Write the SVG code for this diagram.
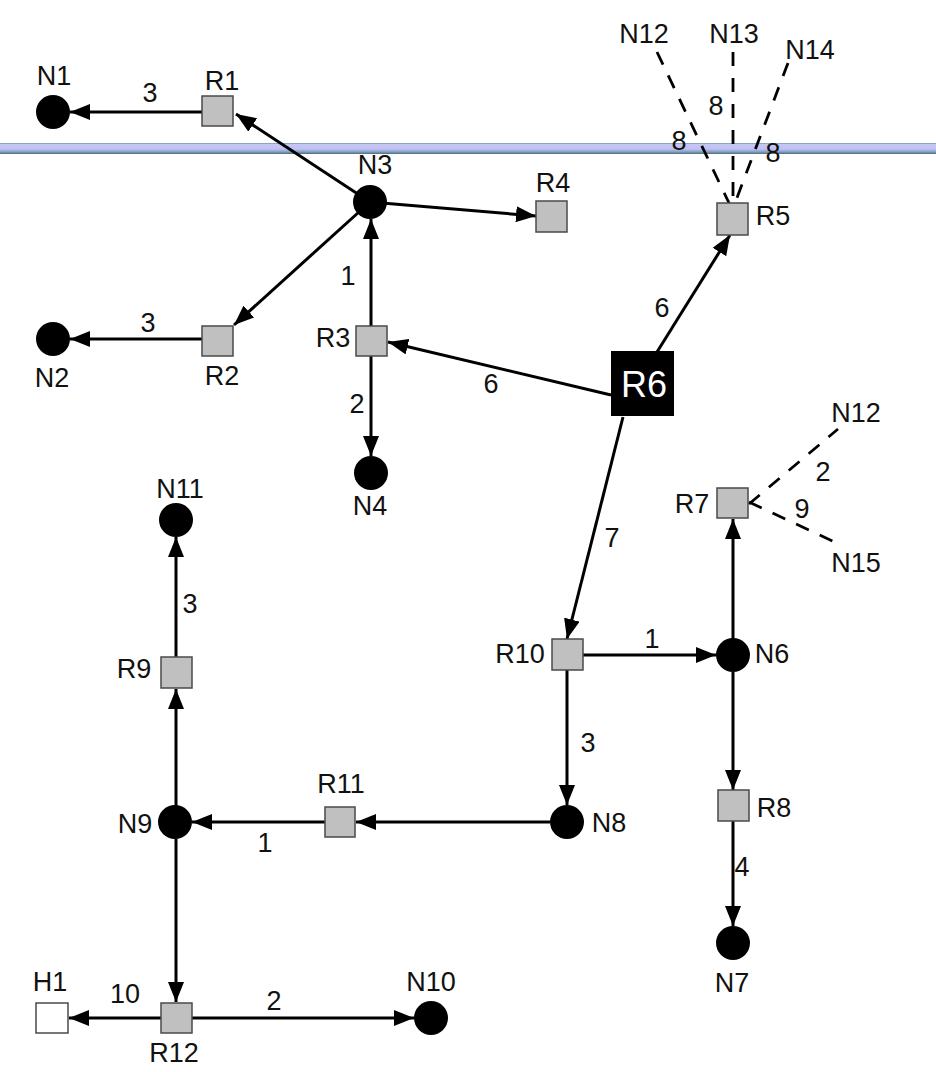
<svg xmlns="http://www.w3.org/2000/svg" width="936" height="1072" viewBox="0 0 936 1072">
<style>
text{font-family:"Liberation Sans",Arial,sans-serif;font-size:27px;fill:#111;text-anchor:middle}
.e{stroke:#000;stroke-width:3;fill:none;marker-end:url(#ah)}
.d{stroke:#000;stroke-width:2.8;fill:none;stroke-dasharray:14 12}
.c{fill:#000}
.s{fill:#c0c0c0;stroke:#4a4a4a;stroke-width:1.5}
.h{fill:#fff;stroke:#4a4a4a;stroke-width:1.5}
</style>
<defs>
<marker id="ah" markerUnits="userSpaceOnUse" markerWidth="21" markerHeight="16" refX="20" refY="8" orient="auto">
<path d="M0,0 L20,8 L0,16 z" fill="#000"/>
</marker>
<linearGradient id="band" x1="0" y1="0" x2="0" y2="1">
<stop offset="0" stop-color="#6d8fa0"/>
<stop offset="0.12" stop-color="#c4c6f6"/>
<stop offset="0.55" stop-color="#c0c2f4"/>
<stop offset="0.8" stop-color="#8a9cc0"/>
<stop offset="1" stop-color="#3f7478"/>
</linearGradient>
</defs>
<rect x="0" y="143" width="936" height="11" fill="url(#band)"/>
<g id="connectors">
<line class="e" x1="202" y1="112" x2="70" y2="112"/>
<line class="e" x1="202" y1="339" x2="70" y2="339"/>
<line class="e" x1="370" y1="202" x2="236" y2="114"/>
<line class="e" x1="370" y1="202" x2="536" y2="216"/>
<line class="e" x1="370" y1="202" x2="234" y2="325"/>
<line class="e" x1="371" y1="326" x2="371" y2="219"/>
<line class="e" x1="371" y1="356" x2="371" y2="456"/>
<line class="e" x1="611" y1="395" x2="388" y2="342"/>
<line class="e" x1="657" y1="352" x2="730" y2="235"/>
<line class="e" x1="623" y1="417" x2="567" y2="639"/>
<line class="e" x1="583" y1="655" x2="716" y2="655"/>
<line class="e" x1="733" y1="655" x2="733" y2="519"/>
<line class="e" x1="733" y1="672" x2="733" y2="790"/>
<line class="e" x1="733" y1="821" x2="733" y2="926"/>
<line class="e" x1="567" y1="670" x2="567" y2="805"/>
<line class="e" x1="550" y1="822" x2="356" y2="822"/>
<line class="e" x1="325" y1="822" x2="192" y2="822"/>
<line class="e" x1="176" y1="822" x2="176" y2="689"/>
<line class="e" x1="176" y1="657" x2="176" y2="537"/>
<line class="e" x1="176" y1="839" x2="176" y2="1002"/>
<line class="e" x1="161" y1="1018" x2="69" y2="1018"/>
<line class="e" x1="192" y1="1018" x2="414" y2="1018"/>
<line class="d" x1="657" y1="52" x2="729" y2="203"/>
<line class="d" x1="733" y1="52" x2="733" y2="203"/>
<line class="d" x1="788" y1="63" x2="735" y2="203"/>
<line class="d" x1="749" y1="504" x2="838" y2="429"/>
<line class="d" x1="749" y1="502" x2="839" y2="544"/>
<text x="150" y="102">3</text>
<text x="148" y="332">3</text>
<text x="348" y="285">1</text>
<text x="357" y="413">2</text>
<text x="491" y="393">6</text>
<text x="662" y="317">6</text>
<text x="612" y="547">7</text>
<text x="679" y="150">8</text>
<text x="716" y="115">8</text>
<text x="773" y="162">8</text>
<text x="823" y="481">2</text>
<text x="802" y="518">9</text>
<text x="652" y="648">1</text>
<text x="588" y="752">3</text>
<text x="742" y="876">4</text>
<text x="190" y="613">3</text>
<text x="265" y="852">1</text>
<text x="125" y="1003">10</text>
<text x="274" y="1010">2</text>
</g>
<g id="N1"><circle class="c" cx="53" cy="112" r="17"/><text x="54" y="85">N1</text></g>
<g id="N2"><circle class="c" cx="53" cy="339" r="17"/><text x="52" y="387">N2</text></g>
<g id="N3"><circle class="c" cx="370" cy="202" r="17"/><text x="375" y="174">N3</text></g>
<g id="N4"><circle class="c" cx="371" cy="473" r="17"/><text x="370" y="515">N4</text></g>
<g id="N6"><circle class="c" cx="733" cy="655" r="17"/><text x="772" y="663">N6</text></g>
<g id="N7"><circle class="c" cx="733" cy="943" r="17"/><text x="732" y="992">N7</text></g>
<g id="N8"><circle class="c" cx="567" cy="822" r="17"/><text x="609" y="832">N8</text></g>
<g id="N9"><circle class="c" cx="175" cy="822" r="17"/><text x="135" y="833">N9</text></g>
<g id="N10"><circle class="c" cx="431" cy="1018" r="17"/><text x="431" y="991">N10</text></g>
<g id="N11"><circle class="c" cx="176" cy="520" r="17"/><text x="180" y="498">N11</text></g>
<g id="N12a"><text x="644" y="43">N12</text></g>
<g id="N13"><text x="734" y="43">N13</text></g>
<g id="N14"><text x="810" y="59">N14</text></g>
<g id="N12b"><text x="856" y="422">N12</text></g>
<g id="N15"><text x="856" y="572">N15</text></g>
<g id="R1"><rect class="s" x="202" y="96" width="31" height="30"/><text x="222" y="90">R1</text></g>
<g id="R2"><rect class="s" x="202" y="326" width="31" height="30"/><text x="222" y="385">R2</text></g>
<g id="R3"><rect class="s" x="356" y="326" width="31" height="30"/><text x="333" y="347">R3</text></g>
<g id="R4"><rect class="s" x="536" y="201" width="31" height="31"/><text x="553" y="192">R4</text></g>
<g id="R5"><rect class="s" x="717" y="203" width="31" height="32"/><text x="773" y="225">R5</text></g>
<g id="R6"><rect x="611" y="351" width="63" height="65" fill="#000"/><text x="644" y="397" style="fill:#fff;font-size:36px">R6</text></g>
<g id="R7"><rect class="s" x="717" y="488" width="31" height="30"/><text x="692" y="513">R7</text></g>
<g id="R8"><rect class="s" x="718" y="790" width="31" height="31"/><text x="774" y="817">R8</text></g>
<g id="R9"><rect class="s" x="161" y="657" width="31" height="31"/><text x="134" y="678">R9</text></g>
<g id="R10"><rect class="s" x="552" y="639" width="31" height="31"/><text x="520" y="663">R10</text></g>
<g id="R11"><rect class="s" x="325" y="807" width="30" height="30"/><text x="341" y="793">R11</text></g>
<g id="R12"><rect class="s" x="161" y="1003" width="31" height="30"/><text x="174" y="1062">R12</text></g>
<g id="H1"><rect class="h" x="36" y="1003" width="32" height="30"/><text x="50" y="991">H1</text></g>
</svg>
